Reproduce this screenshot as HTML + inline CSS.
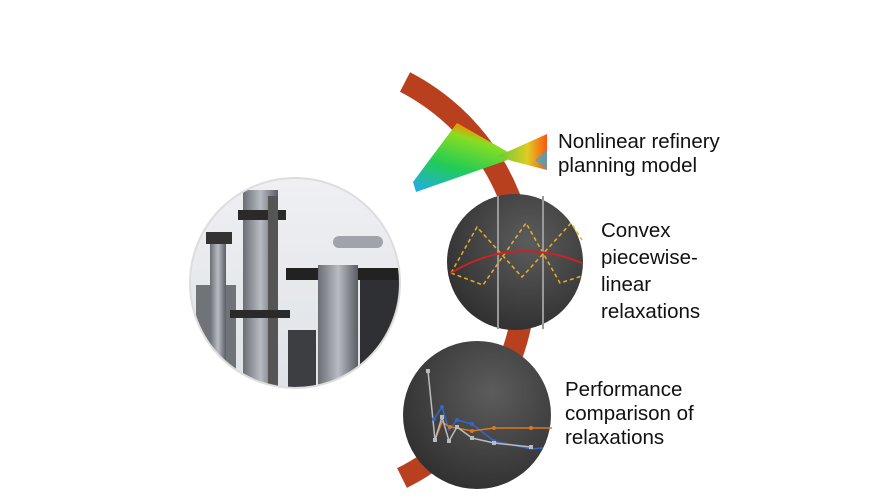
<!DOCTYPE html>
<html><head><style>
body{margin:0;width:896px;height:504px;background:#fff;overflow:hidden;font-family:"Liberation Sans",sans-serif}
.t{position:absolute;font-size:20.5px;line-height:24px;color:#111}
</style></head><body>
<svg width="896" height="504" style="position:absolute;left:0;top:0">
<defs>
<radialGradient id="dk" cx="0.6" cy="0.35" r="0.75"><stop offset="0" stop-color="#5c5c5c"/><stop offset="1" stop-color="#2c2c2c"/></radialGradient>
<linearGradient id="sf1" x1="0" y1="1" x2="0.45" y2="0"><stop offset="0" stop-color="#22aaee"/><stop offset="0.45" stop-color="#22cc55"/><stop offset="0.85" stop-color="#88dd22"/><stop offset="1" stop-color="#ff8800"/></linearGradient>
<linearGradient id="sf2" x1="0" y1="0" x2="1" y2="0"><stop offset="0" stop-color="#66cc33"/><stop offset="0.6" stop-color="#ddcc22"/><stop offset="1" stop-color="#ff5511"/></linearGradient>
<linearGradient id="sky" x1="0" y1="0" x2="0" y2="1"><stop offset="0" stop-color="#eef0f3"/><stop offset="1" stop-color="#dfe2e6"/></linearGradient>
<linearGradient id="met" x1="0" y1="0" x2="1" y2="0"><stop offset="0" stop-color="#6a6e74"/><stop offset="0.5" stop-color="#b8bcc2"/><stop offset="1" stop-color="#5a5e64"/></linearGradient>
<clipPath id="cp"><circle cx="295" cy="283" r="105"/></clipPath>
</defs>
<path d="M405 82 A222 222 0 0 1 402 478" fill="none" stroke="#b8401e" stroke-width="22"/>
<polygon points="457,123 515,156 505,161 416,192 413,182" fill="url(#sf1)"/>
<polygon points="498,156 547,134 547,170 512,161" fill="url(#sf2)"/>
<polygon points="535,160 547,150 547,170" fill="#33aadd" opacity="0.7"/>
<g clip-path="url(#cp)">
<rect x="190" y="178" width="210" height="210" fill="url(#sky)"/>
<rect x="196" y="285" width="40" height="105" fill="#707478"/>
<rect x="210" y="240" width="16" height="150" fill="url(#met)"/>
<rect x="206" y="232" width="26" height="12" fill="#333"/>
<rect x="243" y="190" width="35" height="200" fill="url(#met)"/>
<rect x="238" y="210" width="48" height="10" fill="#2a2a2a"/>
<rect x="268" y="196" width="10" height="190" fill="#555"/>
<rect x="286" y="268" width="114" height="12" fill="#222"/>
<rect x="318" y="265" width="40" height="125" fill="url(#met)"/>
<rect x="333" y="236" width="50" height="12" rx="6" fill="#a0a4aa"/>
<rect x="360" y="280" width="40" height="110" fill="#2e3034"/>
<rect x="288" y="330" width="28" height="60" fill="#3c3e42"/>
<rect x="230" y="310" width="60" height="8" fill="#2a2a2a"/>
</g>
<circle cx="295" cy="283" r="105" fill="none" stroke="#ddd" stroke-width="2"/>
<circle cx="515" cy="262" r="68" fill="url(#dk)"/>
<line x1="498" y1="196" x2="498" y2="329" stroke="#999" stroke-width="2"/>
<line x1="543" y1="196" x2="543" y2="329" stroke="#999" stroke-width="2"/>
<polyline points="451,273 477,227 522,277 571,223 582,240" fill="none" stroke="#e8b020" stroke-width="1.5" stroke-dasharray="4,3"/>
<polyline points="451,273 483,285 526,223 560,283 582,276" fill="none" stroke="#e8b020" stroke-width="1.5" stroke-dasharray="4,3"/>
<path d="M451 273 Q513 235 582 263" fill="none" stroke="#cc2222" stroke-width="2"/>
<circle cx="477" cy="415" r="74" fill="url(#dk)"/>
<g stroke-width="1.5" fill="none">
<polyline points="434,419 442,407 449,430 457,420 472,424 494,441 531,449 543,448" stroke="#3366cc"/>
<polyline points="435,440 442,422 450,427 457,428 472,431 494,428 531,428 552,428" stroke="#dd7722"/>
<polyline points="428,371 435,440 442,417 449,441 457,427 472,438 494,443 531,447" stroke="#bbbbbb"/>
</g>
<g fill="#3366cc"><circle cx="434" cy="419" r="2"/><circle cx="442" cy="407" r="2"/><circle cx="457" cy="420" r="2"/><circle cx="472" cy="424" r="2"/><circle cx="494" cy="441" r="2"/></g>
<g fill="#dd7722"><circle cx="450" cy="427" r="2"/><circle cx="472" cy="431" r="2"/><circle cx="494" cy="428" r="2"/><circle cx="531" cy="428" r="2"/></g>
<g fill="#bbb"><rect x="426" y="369" width="4" height="4"/><rect x="433" y="438" width="4" height="4"/><rect x="440" y="415" width="4" height="4"/><rect x="447" y="439" width="4" height="4"/><rect x="455" y="425" width="4" height="4"/><rect x="470" y="436" width="4" height="4"/><rect x="492" y="441" width="4" height="4"/><rect x="529" y="445" width="4" height="4"/></g>
</svg>
<div class="t" style="left:558px;top:130px">Nonlinear refinery<br>planning model</div>
<div class="t" style="left:601px;top:217px;line-height:27px">Convex<br>piecewise-<br>linear<br>relaxations</div>
<div class="t" style="left:565px;top:378px;line-height:24px">Performance<br>comparison of<br>relaxations</div>
</body></html>
